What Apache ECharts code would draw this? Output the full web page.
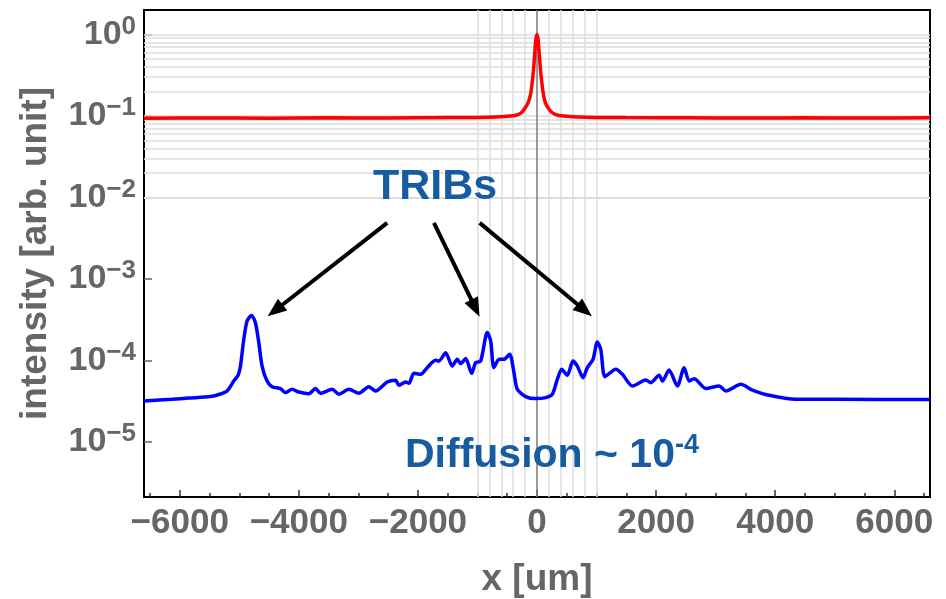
<!DOCTYPE html>
<html><head><meta charset="utf-8">
<script src="https://cdn.jsdelivr.net/npm/echarts@6/dist/echarts.min.js"></script>
<style>html,body{margin:0;padding:0;background:#fff}#c{width:946px;height:599px}</style>
</head><body><div id="c"></div>
<script>
// ---- data ----
const redX = [-6600,-5500,-4500,-3500,-2500,-1500,-1000,-700,-500,-350,-260,-200,-150,-120,-100,-80,-60,-40,-20,0,20,40,60,80,100,120,150,200,260,350,500,700,1000,1500,2500,3500,4500,5500,6600];
const redY = [0.094,0.0945,0.094,0.095,0.0945,0.0955,0.096,0.097,0.099,0.102,0.11,0.125,0.145,0.17,0.2,0.26,0.36,0.55,0.85,1.0,0.85,0.55,0.36,0.26,0.2,0.165,0.14,0.122,0.109,0.102,0.099,0.097,0.096,0.0955,0.095,0.0945,0.095,0.0945,0.095];

const blueX = [-6600,-6129,-5849,-5484,-5316,-5205,-5092,-5020,-4980,-4924,-4869,-4795,-4729,-4672,-4617,-4533,-4449,-4308,-4224,-4113,-4000,-3832,-3719,-3635,-3440,-3328,-3160,-2992,-2824,-2711,-2516,-2375,-2319,-2207,-2151,-2067,-1955,-1844,-1703,-1647,-1534,-1424,-1339,-1282,-1198,-1097,-1030,-946,-835,-778,-723,-639,-555,-459,-387,-331,-190,-22,146,257,341,415,509,605,677,773,845,941,1013,1071,1143,1323,1434,1602,1827,1911,2050,2106,2218,2358,2471,2555,2639,2835,3059,3171,3424,3618,3899,4348,5020,6600];
const blueY = [3.17e-5,3.32e-5,3.44e-5,3.59e-5,3.86e-5,4.2e-5,5.57e-5,6.55e-5,8.51e-5,1.81e-4,3.04e-4,3.56e-4,2.9e-4,1.65e-4,8.51e-5,5.57e-5,4.75e-5,4.5e-5,4.02e-5,4.41e-5,4.08e-5,3.9e-5,4.5e-5,3.94e-5,4.41e-5,3.83e-5,4.41e-5,3.94e-5,4.75e-5,4.2e-5,5.42e-5,5.69e-5,4.93e-5,5.42e-5,5.22e-5,6.92e-5,6.73e-5,8.13e-5,1.0e-4,9.8e-5,1.24e-4,8.51e-5,1.03e-4,9.12e-5,1.05e-4,6.92e-5,9.38e-5,9.8e-5,2.19e-4,1.73e-4,8.13e-5,1.03e-4,1.03e-4,1.19e-4,7.06e-5,4.41e-5,3.59e-5,3.39e-5,3.48e-5,3.83e-5,5.85e-5,7.76e-5,6.55e-5,9.8e-5,8.51e-5,6.13e-5,8.13e-5,1.03e-4,1.68e-4,1.36e-4,6.31e-5,7.76e-5,6.73e-5,4.84e-5,5.73e-5,5.32e-5,6.55e-5,5.57e-5,7.6e-5,4.84e-5,8.13e-5,5.57e-5,5.96e-5,4.5e-5,4.84e-5,4.2e-5,5.08e-5,4.32e-5,3.72e-5,3.32e-5,3.32e-5,3.3e-5];

const xTickLabels = [-6000,-4000,-2000,0,2000,4000,6000];
const xMinorTicks = [-6500,-6000,-5500,-5000,-4500,-4000,-3500,-3000,-2500,-2000,-1500,-1000,-500,0,500,1000,1500,2000,2500,3000,3500,4000,4500,5000,5500,6000,6500];
const yTickLabels = [1e-5,1e-4,1e-3,1e-2,1e-1,1];
const vGrid = [-1000,-800,-600,-400,-200,200,400,600,800,1000];
const hGrid = [];
for (let e = -5; e <= -1; e++) for (let m = 1; m <= 9; m++) hGrid.push(m * Math.pow(10, e));
hGrid.push(1);

// arrows: [startX, startY, endX, endY]
const arrows = [[-2516,4.87e-3,-4398,4.09e-4],[-1731,4.87e-3,-1034,4.37e-4],[-963,4.87e-3,800,4.12e-4]];

const FONT = '"Liberation Sans", Arial, sans-serif';
const GRAY = '#666666';
const BLUE_TXT = '#175ca1';

function pairs(xs, ys){ return xs.map((x,i)=>[x, ys[i]]); }
function supNum(n){ return n < 0 ? '\u2212' + (-n) : String(n); }

const chart = echarts.init(document.getElementById('c'), null, {renderer:'canvas'});
chart.setOption({
  animation: false,
  backgroundColor: '#fff',
  grid: {left:144, right:16, top:10, bottom:102, show:true, borderColor:'#000', borderWidth:2, backgroundColor:'transparent', containLabel:false, outerBoundsMode:'none'},
  xAxis: [{
    type:'value', min:-6600, max:6600, position:'bottom',
    name:'x [um]', nameLocation:'middle', nameGap:64,
    nameTextStyle:{fontFamily:FONT, fontSize:37, fontWeight:'bold', color:GRAY},
    axisLine:{show:false, onZero:false},
    axisTick:{show:true, inside:true, length:7, customValues:xTickLabels, lineStyle:{color:'#333', width:1.5}},
    axisLabel:{customValues:xTickLabels, margin:9, fontFamily:FONT, fontSize:35, fontWeight:'bold', color:GRAY, formatter:v=>supNum(v)},
    splitLine:{show:false}
  },{
    type:'value', min:-6600, max:6600, position:'bottom',
    axisLine:{show:false, onZero:false},
    axisTick:{show:true, inside:true, length:4, customValues:xMinorTicks, lineStyle:{color:'#333', width:1.5}},
    axisLabel:{show:false}, splitLine:{show:false}
  }],
  yAxis: {
    type:'log', logBase:10, min:2.1e-6, max:2.0, position:'left',
    name:'intensity [arb. unit]', nameLocation:'middle', nameGap:90,
    nameTextStyle:{fontFamily:FONT, fontSize:37, fontWeight:'bold', color:GRAY},
    axisLine:{show:false, onZero:false},
    axisTick:{show:true, inside:true, length:8, lineStyle:{color:'#666', width:1.5}},
    axisLabel:{margin:8, showMinLabel:false, showMaxLabel:false,
      formatter: v => { const e = Math.round(Math.log10(v)); return '{b|10}{s|' + supNum(e) + '}'; },
      rich:{
        b:{fontFamily:FONT, fontSize:34, fontWeight:'bold', color:GRAY, lineHeight:34},
        s:{fontFamily:FONT, fontSize:26, fontWeight:'bold', color:GRAY, padding:[0,0,16,0]}
      }},
    splitLine:{show:false}, minorTick:{show:false}
  },
  series: [
    {
      type:'line', data:[], z:1, silent:true,
      markLine:{
        z:1, silent:true, symbol:'none', animation:false, label:{show:false},
        lineStyle:{color:'#dcdcdc', width:1.5, type:'solid'},
        emphasis:{disabled:true},
        data: hGrid.map(v=>({yAxis:v})).concat(vGrid.map(v=>({xAxis:v})), [{xAxis:0, lineStyle:{color:'#7a7a7a', width:1.5, type:'solid'}}])
      }
    },
    {
      name:'red', type:'line', data:pairs(redX, redY), z:3, showSymbol:false, smooth:0.2,
      lineStyle:{color:'#ff0000', width:3.5}, itemStyle:{color:'#ff0000'}
    },
    {
      name:'blue', type:'line', data:pairs(blueX, blueY), z:3, showSymbol:false, smooth:0.25,
      lineStyle:{color:'#0000ff', width:3.5}, itemStyle:{color:'#0000ff'}
    },
    {
      type:'line', data:[], z:6, silent:true,
      markLine:{
        z:6, silent:true, animation:false, symbol:['none','triangle'], symbolSize:[15,19], label:{show:false},
        itemStyle:{color:'#000'},
        lineStyle:{color:'#000', width:4, type:'solid'}, emphasis:{disabled:true},
        data: arrows.map(a=>[{coord:[a[0],a[1]]},{coord:[a[2],a[3]]}])
      }
    }
  ],
  graphic: [
    {type:'text', left:373, top:166, z:10, style:{text:'TRIBs', fontFamily:FONT, fontSize:43, fontWeight:'bold', fill:BLUE_TXT}},
    {type:'text', left:405, top:432, z:10, style:{
      text:'{a|Diffusion ~ 10}{s|-4}',
      rich:{
        a:{fontFamily:FONT, fontSize:41, fontWeight:'bold', fill:BLUE_TXT, color:BLUE_TXT, lineHeight:41},
        s:{fontFamily:FONT, fontSize:27, fontWeight:'bold', fill:BLUE_TXT, color:BLUE_TXT, padding:[0,0,20,0]}
      }}}
  ]
});
</script></body></html>
